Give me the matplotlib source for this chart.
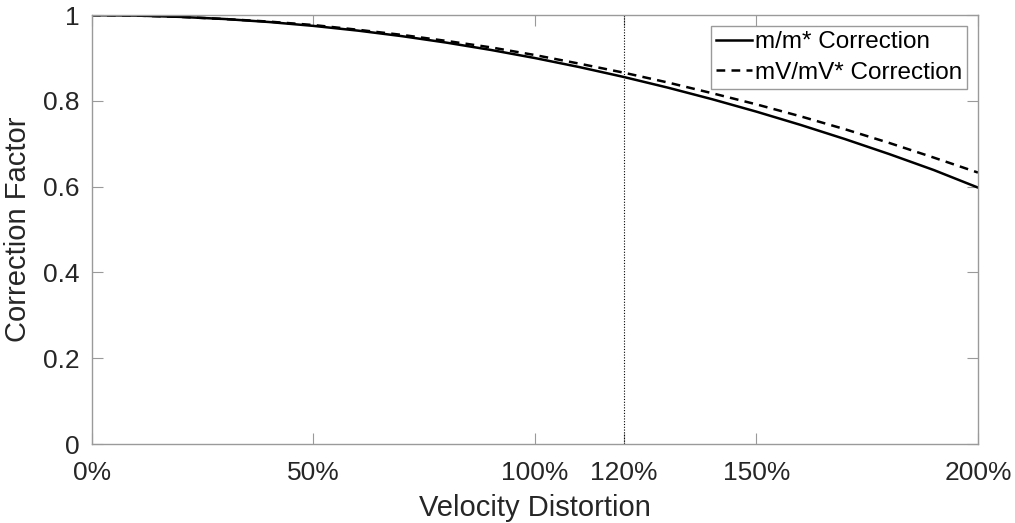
import numpy as np
import matplotlib
matplotlib.use("Agg")
import matplotlib.pyplot as plt

# values (velocity distortion as a fraction)
distortion = [0.0, 0.1, 0.2, 0.3, 0.4, 0.5, 0.6, 0.7, 0.8, 0.9, 1.0,
              1.1, 1.2, 1.3, 1.4, 1.5, 1.6, 1.7, 1.8, 1.9, 2.0]
mass_corr = [1.000, 0.999, 0.996, 0.991, 0.984, 0.975, 0.964, 0.951, 0.936, 0.919, 0.900,
             0.879, 0.856, 0.831, 0.804, 0.775, 0.744, 0.711, 0.676, 0.639, 0.598]
momentum_corr = [1.000, 0.999, 0.996, 0.991, 0.985, 0.977, 0.966, 0.954, 0.940, 0.925, 0.907,
                 0.887, 0.866, 0.843, 0.818, 0.792, 0.764, 0.734, 0.702, 0.668, 0.633]

x_ticks = [0, 0.5, 1.0, 1.2, 1.5, 2.0]
x_ticklabels = ["0%", "50%", "100%", "120%", "150%", "200%"]
y_ticks = [0, 0.2, 0.4, 0.6, 0.8, 1]
y_ticklabels = ["0", "0.2", "0.4", "0.6", "0.8", "1"]
marker_x = 1.2

plt.rcParams["font.family"] = ["Liberation Sans", "DejaVu Sans"]
text_col = "#262626"
spine_col = "#9a9a9a"

fig = plt.figure(figsize=(10.15, 5.23), dpi=100)
ax = fig.add_axes([0.0906, 0.151, 0.8729, 0.820])

ax.plot(distortion, mass_corr, color="black", lw=1.8, label="m/m* Correction")
ax.plot(distortion, momentum_corr, color="black", lw=1.8, ls=(0, (3.5, 2.5)),
        label="mV/mV* Correction")
ax.axvline(marker_x, color="black", lw=0.8, ls=(0, (1, 1.5)))

ax.set_xlim(0, 2)
ax.set_ylim(0, 1)
ax.set_xticks(x_ticks)
ax.set_xticklabels(x_ticklabels)
ax.set_yticks(y_ticks)
ax.set_yticklabels(y_ticklabels)

ax.tick_params(direction="in", length=8, width=0.8, colors=spine_col,
               labelcolor=text_col, labelsize=19, top=True, right=True)
ax.tick_params(axis="x", pad=12)
ax.tick_params(axis="y", pad=9)
for s in ax.spines.values():
    s.set_color(spine_col)
    s.set_linewidth(1.0)

ax.set_xlabel("Velocity Distortion", fontsize=21, color=text_col, labelpad=7)
ax.set_ylabel("Correction Factor", fontsize=21, color=text_col, labelpad=8)

leg = ax.legend(loc="upper right", fontsize=17.5, handlelength=1.5, handletextpad=0.1,
                borderaxespad=0.45, borderpad=0.21, labelspacing=0.35,
                fancybox=False, framealpha=1, edgecolor=spine_col)
leg.get_frame().set_linewidth(1.0)
for t in leg.get_texts():
    t.set_color("black")

fig.savefig("out.png", dpi=100)
